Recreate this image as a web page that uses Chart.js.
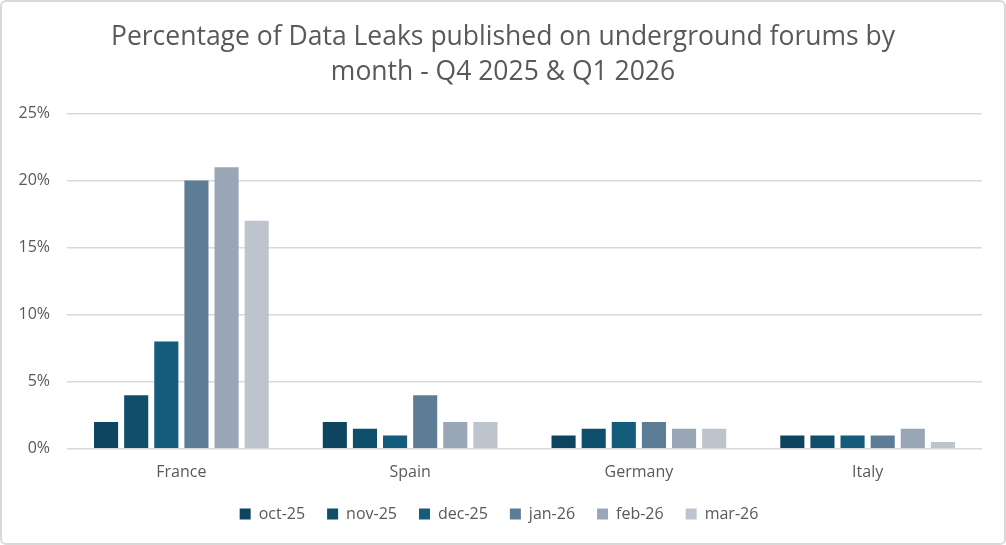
<!DOCTYPE html>
<html>
<head>
    <script src="https://cdn.jsdelivr.net/npm/chart.js"></script>
    <style>
        html, body {
            margin: 0;
            padding: 0;
            background-color: white;
        }

        .container {
            position: relative;
            width: 1002px;
            height: 541px;
            border: 2px solid #d9d9d9;
            border-radius: 6px;
            background-color: white;
        }
    </style>
</head>
<body>

    <div class="container">
        <canvas id="leakChart"></canvas>
    </div>

    <script>
        // Data
        const countries = ["France", "Spain", "Germany", "Italy"];
        const months = ["oct-25", "nov-25", "dec-25", "jan-26", "feb-26", "mar-26"];
        const oct25 = [2, 2, 1, 1];
        const nov25 = [4, 1.5, 1.5, 1];
        const dec25 = [8, 1, 2, 1];
        const jan26 = [20, 4, 2, 1];
        const feb26 = [21, 2, 1.5, 1.5];
        const mar26 = [17, 2, 1.5, 0.5];
        const yTicks = [0, 5, 10, 15, 20, 25];

        const seriesValues = [oct25, nov25, dec25, jan26, feb26, mar26];
        const seriesColors = ["#0d4460", "#104f6b", "#145b7c", "#5d7c96", "#98a6b5", "#bdc4cd"];

        const fontFamily = "'Open Sans', 'Liberation Sans', sans-serif";
        const textColor = "#595959";

        // keep the title centred on the whole card, not just the padded area
        const centerTitle = {
            id: "centerTitle",
            afterLayout(chart) {
                chart.titleBlock.left += 8;
            }
        };

        const ctx = document.getElementById("leakChart").getContext("2d");
        new Chart(ctx, {
            type: "bar",
            data: {
                labels: countries,
                datasets: months.map((m, i) => ({
                    label: m,
                    data: seriesValues[i],
                    backgroundColor: seriesColors[i],
                    borderWidth: 0,
                    barPercentage: 0.8,
                    categoryPercentage: 0.79
                }))
            },
            plugins: [centerTitle],
            options: {
                responsive: true,
                maintainAspectRatio: false,
                animation: false,
                layout: {
                    padding: { left: 14, right: 22, top: 18, bottom: 11 }
                },
                plugins: {
                    title: {
                        display: true,
                        text: ["Percentage of Data Leaks published on underground forums by", "month - Q4 2025 & Q1 2026"],
                        color: textColor,
                        font: { family: fontFamily, size: 26.5, weight: "normal", lineHeight: 1.33 },
                        padding: { top: 0, bottom: 23 }
                    },
                    legend: {
                        position: "bottom",
                        labels: {
                            color: textColor,
                            font: { family: fontFamily, size: 16 },
                            boxWidth: 11,
                            boxHeight: 11,
                            padding: 22
                        }
                    },
                    tooltip: { enabled: false }
                },
                scales: {
                    x: {
                        grid: { display: false, drawTicks: false },
                        border: { display: false },
                        afterFit: axis => { axis.height -= 12; },
                        ticks: {
                            color: textColor,
                            font: { family: fontFamily, size: 16 },
                            padding: 14
                        }
                    },
                    y: {
                        min: 0,
                        max: 25,
                        afterBuildTicks: axis => {
                            axis.ticks = yTicks.map(v => ({ value: v }));
                        },
                        afterFit: axis => { axis.width = 51; },
                        grid: { color: "#d9d9d9", lineWidth: 1.5, drawTicks: false },
                        border: { display: false },
                        ticks: {
                            color: textColor,
                            font: { family: fontFamily, size: 16 },
                            padding: 17,
                            callback: v => v + "%"
                        }
                    }
                }
            }
        });
    </script>

</body>
</html>
